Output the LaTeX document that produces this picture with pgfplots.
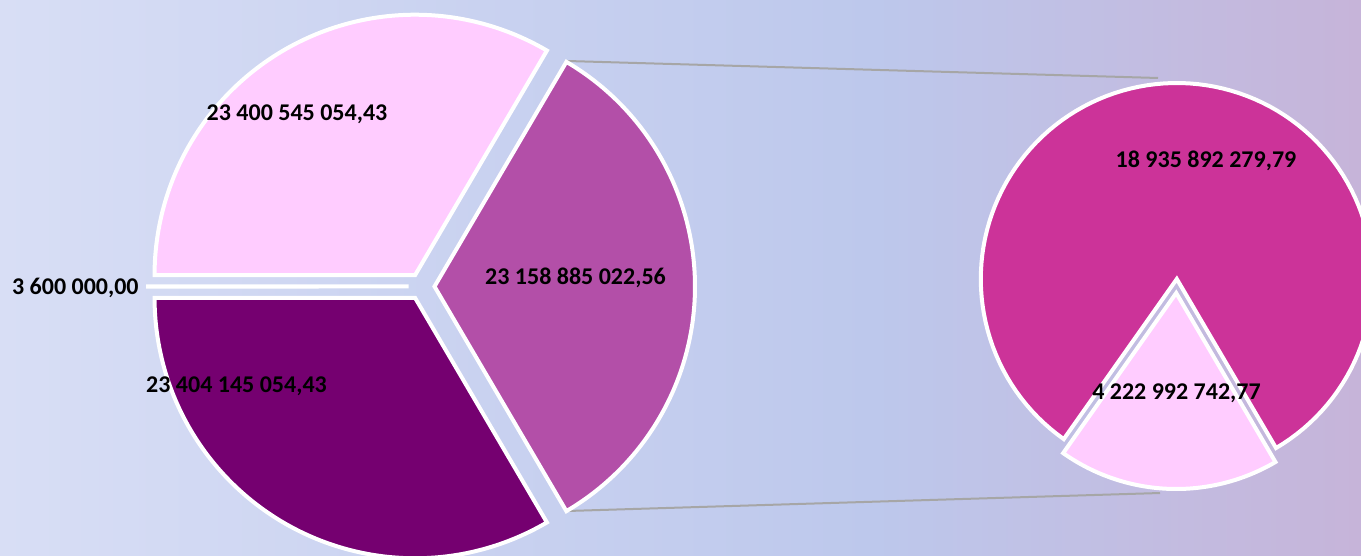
\documentclass[border=0pt]{standalone}
\usepackage{pgfplots}
\pgfplotsset{compat=1.18}
\usepackage{fontspec}
\setmainfont{Carlito}
\definecolor{bgA}{RGB}{216,222,245}
\definecolor{bgB}{RGB}{189,200,236}
\definecolor{bgC}{RGB}{198,180,217}
\definecolor{cLight}{RGB}{255,204,255}
\definecolor{cDark}{RGB}{117,0,112}
\definecolor{cMid}{RGB}{179,79,168}
\definecolor{cMag}{RGB}{204,51,153}
\definecolor{cLine}{RGB}{166,166,166}
% TikZ maps the central 25bp..75bp of a shading onto the path
\pgfdeclarehorizontalshading{bgshade}{100bp}{color(0bp)=(bgA); color(25bp)=(bgA); color(57bp)=(bgB); color(75bp)=(bgC); color(100bp)=(bgC)}

% data
\def\vA{23400545054.43}   % top-left
\def\vT{3600000.00}       % tiny
\def\vB{23404145054.43}   % bottom-left
\def\vO{23158885022.56}   % other (split into second pie)
\def\vM{18935892279.79}   % second pie, large
\def\vS{4222992742.77}    % second pie, small

\edef\total{\fpeval{\vA+\vT+\vB+\vO}}
\edef\angA{\fpeval{round(360*\vA/\total,4)}}
\edef\angT{\fpeval{round(360*\vT/\total,4)}}
\edef\angB{\fpeval{round(360*\vB/\total,4)}}
\edef\angO{\fpeval{round(360*\vO/\total,4)}}
\edef\angS{\fpeval{round(360*\vS/(\vM+\vS),4)}}

\edef\aA{\fpeval{\angO/2}}
\edef\aB{\fpeval{\aA+\angA}}
\edef\aC{\fpeval{\aB+\angT}}
\edef\aD{\fpeval{\aC+\angB}}
\edef\aE{\fpeval{360+\angO/2}}
\def\rot{-2.4}
\edef\sA{\fpeval{270+\rot-\angS/2}}
\edef\sB{\fpeval{270+\rot+\angS/2}}
\edef\sC{\fpeval{630+\rot-\angS/2}}

\newcommand\pieslice[7]{%
  \edef\pmid{\fpeval{(#4+#5)/2}}%
  \edef\pox{\fpeval{round(#1+#6*cosd(\pmid),3)}}%
  \edef\poy{\fpeval{round(#2+#6*sind(\pmid),3)}}%
  \edef\pcmd{\noexpand\addplot[fill=#7, draw=white, line width=2pt, line join=miter, domain=#4:#5, samples=120, variable=\noexpand\t] ({\pox+#3*cos(\noexpand\t)},{\poy+#3*sin(\noexpand\t)}) -- (axis cs:\pox,\poy) -- cycle;}%
  \pcmd
}

\begin{document}
\begin{tikzpicture}
\begin{axis}[
  scale only axis, width=680.5pt, height=277.5pt,
  xmin=0, xmax=1361, ymin=0, ymax=555,
  hide axis, clip=true,
  axis background/.style={shade, shading=bgshade},
]
\addplot[color=cLine, line width=1pt] coordinates {(567,494) (1158,477)};
\addplot[color=cLine, line width=1pt] coordinates {(567,44) (1160,62)};

\pieslice{421.5}{268.5}{260.5}{\aA}{\aB}{13}{cLight}
\pieslice{421.5}{268.5}{260.5}{\aB}{\aC}{13}{cLight}
\pieslice{421.5}{268.5}{260.5}{\aC}{\aD}{13}{cDark}
\pieslice{421.5}{268.5}{260.5}{\aD}{\aE}{13}{cMid}

\pieslice{1176.5}{269}{196}{\sA}{\sB}{7}{cLight}
\pieslice{1176.5}{269}{196}{\sB}{\sC}{7}{cMag}

\node[anchor=base, font=\fontsize{12}{14}\selectfont\bfseries] at (axis cs:297,434) {23 400 545 054,43};
\node[anchor=base, font=\fontsize{12}{14}\selectfont\bfseries] at (axis cs:575.5,271) {23 158 885 022,56};
\node[anchor=base, font=\fontsize{12}{14}\selectfont\bfseries] at (axis cs:236.5,163) {23 404 145 054,43};
\node[anchor=base east, inner sep=0pt, font=\fontsize{12}{14}\selectfont\bfseries] at (axis cs:139,261) {3 600 000,00};
\node[anchor=base, font=\fontsize{12}{14}\selectfont\bfseries] at (axis cs:1206,387) {18 935 892 279,79};
\node[anchor=base, font=\fontsize{12}{14}\selectfont\bfseries] at (axis cs:1176.5,156) {4 222 992 742,77};
\end{axis}
\end{tikzpicture}
\end{document}
